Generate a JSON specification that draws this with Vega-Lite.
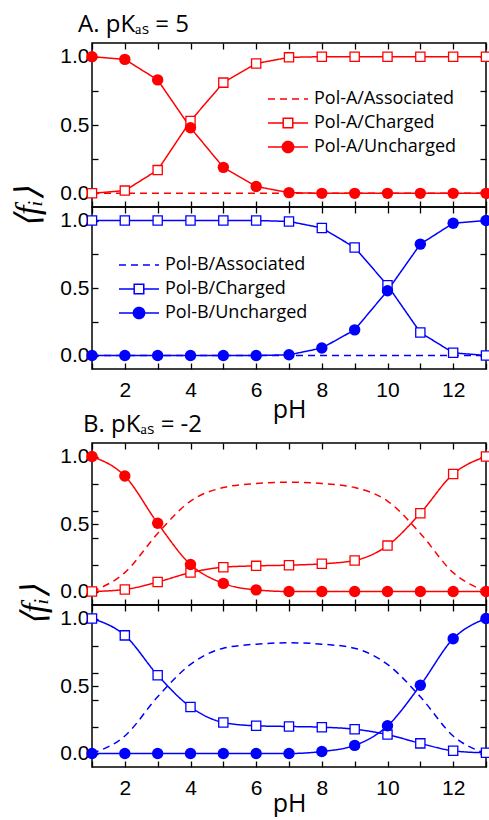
{
  "$schema": "https://vega.github.io/schema/vega-lite/v6.json",
  "padding": {"left": 10, "right": 4, "top": 12, "bottom": 0},
  "spacing": -11,
  "resolve": {"scale": {"strokeDash": "independent"}, "legend": {"strokeDash": "independent"}},
  "config": {
    "font": "Liberation Sans",
    "view": {"stroke": "black", "strokeWidth": 1.5},
    "axis": {
      "domain": false, "grid": false, "tickColor": "black", "tickWidth": 1.3, "tickSize": -6,
      "labelFont": "Liberation Sans", "labelFontSize": 21, "labelColor": "black", "labelPadding": 9,
      "titleFont": "Open Sans", "titleFontSize": 25, "titleFontWeight": "normal", "titleColor": "black"
    },
    "title": {"font": "Open Sans", "fontSize": 24, "fontWeight": "normal", "color": "black", "anchor": "start", "frame": "group"}
  },
  "datasets": {
    "a_red": [
      {"pH":1,"series":"Pol-A/Associated","f":0},{"pH":2,"series":"Pol-A/Associated","f":0},{"pH":3,"series":"Pol-A/Associated","f":0},{"pH":4,"series":"Pol-A/Associated","f":0},{"pH":5,"series":"Pol-A/Associated","f":0},{"pH":6,"series":"Pol-A/Associated","f":0},{"pH":7,"series":"Pol-A/Associated","f":0},{"pH":8,"series":"Pol-A/Associated","f":0},{"pH":9,"series":"Pol-A/Associated","f":0},{"pH":10,"series":"Pol-A/Associated","f":0},{"pH":11,"series":"Pol-A/Associated","f":0},{"pH":12,"series":"Pol-A/Associated","f":0},{"pH":13,"series":"Pol-A/Associated","f":0},
      {"pH":1,"series":"Pol-A/Charged","f":0},{"pH":2,"series":"Pol-A/Charged","f":0.02},{"pH":3,"series":"Pol-A/Charged","f":0.17},{"pH":4,"series":"Pol-A/Charged","f":0.53},{"pH":5,"series":"Pol-A/Charged","f":0.81},{"pH":6,"series":"Pol-A/Charged","f":0.95},{"pH":7,"series":"Pol-A/Charged","f":0.995},{"pH":8,"series":"Pol-A/Charged","f":1},{"pH":9,"series":"Pol-A/Charged","f":1},{"pH":10,"series":"Pol-A/Charged","f":1},{"pH":11,"series":"Pol-A/Charged","f":1},{"pH":12,"series":"Pol-A/Charged","f":1},{"pH":13,"series":"Pol-A/Charged","f":1},
      {"pH":1,"series":"Pol-A/Uncharged","f":1},{"pH":2,"series":"Pol-A/Uncharged","f":0.98},{"pH":3,"series":"Pol-A/Uncharged","f":0.83},{"pH":4,"series":"Pol-A/Uncharged","f":0.48},{"pH":5,"series":"Pol-A/Uncharged","f":0.19},{"pH":6,"series":"Pol-A/Uncharged","f":0.05},{"pH":7,"series":"Pol-A/Uncharged","f":0.005},{"pH":8,"series":"Pol-A/Uncharged","f":0},{"pH":9,"series":"Pol-A/Uncharged","f":0},{"pH":10,"series":"Pol-A/Uncharged","f":0},{"pH":11,"series":"Pol-A/Uncharged","f":0},{"pH":12,"series":"Pol-A/Uncharged","f":0},{"pH":13,"series":"Pol-A/Uncharged","f":0}
    ],
    "a_blue": [
      {"pH":1,"series":"Pol-B/Associated","f":0},{"pH":2,"series":"Pol-B/Associated","f":0},{"pH":3,"series":"Pol-B/Associated","f":0},{"pH":4,"series":"Pol-B/Associated","f":0},{"pH":5,"series":"Pol-B/Associated","f":0},{"pH":6,"series":"Pol-B/Associated","f":0},{"pH":7,"series":"Pol-B/Associated","f":0},{"pH":8,"series":"Pol-B/Associated","f":0},{"pH":9,"series":"Pol-B/Associated","f":0},{"pH":10,"series":"Pol-B/Associated","f":0},{"pH":11,"series":"Pol-B/Associated","f":0},{"pH":12,"series":"Pol-B/Associated","f":0},{"pH":13,"series":"Pol-B/Associated","f":0},
      {"pH":1,"series":"Pol-B/Charged","f":1},{"pH":2,"series":"Pol-B/Charged","f":1},{"pH":3,"series":"Pol-B/Charged","f":1},{"pH":4,"series":"Pol-B/Charged","f":1},{"pH":5,"series":"Pol-B/Charged","f":1},{"pH":6,"series":"Pol-B/Charged","f":1},{"pH":7,"series":"Pol-B/Charged","f":0.993},{"pH":8,"series":"Pol-B/Charged","f":0.945},{"pH":9,"series":"Pol-B/Charged","f":0.8},{"pH":10,"series":"Pol-B/Charged","f":0.52},{"pH":11,"series":"Pol-B/Charged","f":0.17},{"pH":12,"series":"Pol-B/Charged","f":0.02},{"pH":13,"series":"Pol-B/Charged","f":0},
      {"pH":1,"series":"Pol-B/Uncharged","f":0},{"pH":2,"series":"Pol-B/Uncharged","f":0},{"pH":3,"series":"Pol-B/Uncharged","f":0},{"pH":4,"series":"Pol-B/Uncharged","f":0},{"pH":5,"series":"Pol-B/Uncharged","f":0},{"pH":6,"series":"Pol-B/Uncharged","f":0},{"pH":7,"series":"Pol-B/Uncharged","f":0.005},{"pH":8,"series":"Pol-B/Uncharged","f":0.055},{"pH":9,"series":"Pol-B/Uncharged","f":0.19},{"pH":10,"series":"Pol-B/Uncharged","f":0.48},{"pH":11,"series":"Pol-B/Uncharged","f":0.825},{"pH":12,"series":"Pol-B/Uncharged","f":0.98},{"pH":13,"series":"Pol-B/Uncharged","f":1}
    ],
    "b_red": [
      {"pH":1,"series":"Pol-A/Associated","f":0},{"pH":2,"series":"Pol-A/Associated","f":0.14},{"pH":3,"series":"Pol-A/Associated","f":0.43},{"pH":4,"series":"Pol-A/Associated","f":0.67},{"pH":5,"series":"Pol-A/Associated","f":0.77},{"pH":6,"series":"Pol-A/Associated","f":0.8},{"pH":7,"series":"Pol-A/Associated","f":0.81},{"pH":8,"series":"Pol-A/Associated","f":0.8},{"pH":9,"series":"Pol-A/Associated","f":0.77},{"pH":10,"series":"Pol-A/Associated","f":0.67},{"pH":11,"series":"Pol-A/Associated","f":0.43},{"pH":12,"series":"Pol-A/Associated","f":0.14},{"pH":13,"series":"Pol-A/Associated","f":0},
      {"pH":1,"series":"Pol-A/Charged","f":0},{"pH":2,"series":"Pol-A/Charged","f":0.015},{"pH":3,"series":"Pol-A/Charged","f":0.07},{"pH":4,"series":"Pol-A/Charged","f":0.14},{"pH":5,"series":"Pol-A/Charged","f":0.18},{"pH":6,"series":"Pol-A/Charged","f":0.19},{"pH":7,"series":"Pol-A/Charged","f":0.195},{"pH":8,"series":"Pol-A/Charged","f":0.205},{"pH":9,"series":"Pol-A/Charged","f":0.23},{"pH":10,"series":"Pol-A/Charged","f":0.34},{"pH":11,"series":"Pol-A/Charged","f":0.58},{"pH":12,"series":"Pol-A/Charged","f":0.87},{"pH":13,"series":"Pol-A/Charged","f":1},
      {"pH":1,"series":"Pol-A/Uncharged","f":1},{"pH":2,"series":"Pol-A/Uncharged","f":0.855},{"pH":3,"series":"Pol-A/Uncharged","f":0.505},{"pH":4,"series":"Pol-A/Uncharged","f":0.2},{"pH":5,"series":"Pol-A/Uncharged","f":0.06},{"pH":6,"series":"Pol-A/Uncharged","f":0.012},{"pH":7,"series":"Pol-A/Uncharged","f":0},{"pH":8,"series":"Pol-A/Uncharged","f":0},{"pH":9,"series":"Pol-A/Uncharged","f":0},{"pH":10,"series":"Pol-A/Uncharged","f":0},{"pH":11,"series":"Pol-A/Uncharged","f":0},{"pH":12,"series":"Pol-A/Uncharged","f":0},{"pH":13,"series":"Pol-A/Uncharged","f":0}
    ],
    "b_blue": [
      {"pH":1,"series":"Pol-B/Associated","f":0},{"pH":2,"series":"Pol-B/Associated","f":0.13},{"pH":3,"series":"Pol-B/Associated","f":0.42},{"pH":4,"series":"Pol-B/Associated","f":0.66},{"pH":5,"series":"Pol-B/Associated","f":0.78},{"pH":6,"series":"Pol-B/Associated","f":0.81},{"pH":7,"series":"Pol-B/Associated","f":0.82},{"pH":8,"series":"Pol-B/Associated","f":0.81},{"pH":9,"series":"Pol-B/Associated","f":0.78},{"pH":10,"series":"Pol-B/Associated","f":0.66},{"pH":11,"series":"Pol-B/Associated","f":0.42},{"pH":12,"series":"Pol-B/Associated","f":0.13},{"pH":13,"series":"Pol-B/Associated","f":0},
      {"pH":1,"series":"Pol-B/Charged","f":1},{"pH":2,"series":"Pol-B/Charged","f":0.875},{"pH":3,"series":"Pol-B/Charged","f":0.58},{"pH":4,"series":"Pol-B/Charged","f":0.345},{"pH":5,"series":"Pol-B/Charged","f":0.23},{"pH":6,"series":"Pol-B/Charged","f":0.205},{"pH":7,"series":"Pol-B/Charged","f":0.2},{"pH":8,"series":"Pol-B/Charged","f":0.195},{"pH":9,"series":"Pol-B/Charged","f":0.18},{"pH":10,"series":"Pol-B/Charged","f":0.14},{"pH":11,"series":"Pol-B/Charged","f":0.075},{"pH":12,"series":"Pol-B/Charged","f":0.02},{"pH":13,"series":"Pol-B/Charged","f":0.005},
      {"pH":1,"series":"Pol-B/Uncharged","f":0},{"pH":2,"series":"Pol-B/Uncharged","f":0},{"pH":3,"series":"Pol-B/Uncharged","f":0},{"pH":4,"series":"Pol-B/Uncharged","f":0},{"pH":5,"series":"Pol-B/Uncharged","f":0},{"pH":6,"series":"Pol-B/Uncharged","f":0},{"pH":7,"series":"Pol-B/Uncharged","f":0},{"pH":8,"series":"Pol-B/Uncharged","f":0.015},{"pH":9,"series":"Pol-B/Uncharged","f":0.06},{"pH":10,"series":"Pol-B/Uncharged","f":0.205},{"pH":11,"series":"Pol-B/Uncharged","f":0.505},{"pH":12,"series":"Pol-B/Uncharged","f":0.85},{"pH":13,"series":"Pol-B/Uncharged","f":1}
    ]
  },
  "vconcat": [
    {
      "spacing": 0,
      "bounds": "flush",
      "resolve": {"scale": {"strokeDash": "independent"}, "legend": {"strokeDash": "independent"}},
      "vconcat": [
        {
          "width": 394, "height": 164,
          "title": {"text": "A. pKₐₛ = 5", "dx": -14, "offset": 5},
          "data": {"name": "a_red"},
          "layer": [
            {
              "mark": {"type": "line", "strokeWidth": 1.5, "color": "#ff0000", "interpolate": "linear"},
              "encoding": {
                "x": {"field": "pH", "type": "quantitative", "scale": {"domain": [1, 13], "nice": false},
                      "axis": {"orient": "bottom", "values": [1,2,3,4,5,6,7,8,9,10,11,12,13], "labels": false, "title": null}},
                "y": {"field": "f", "type": "quantitative", "scale": {"domain": [-0.1, 1.1], "nice": false, "zero": false},
                      "axis": {"orient": "left", "values": [0, 0.25, 0.5, 0.75, 1], "labelExpr": "datum.value == 0 || datum.value == 0.5 || datum.value == 1 ? format(datum.value, '.1f') : ''",
                               "title": "⟨fᵢ⟩", "titleFont": "Liberation Serif", "titleFontStyle": "italic", "titleFontSize": 34, "titleAngle": 270, "titleX": -64, "titleY": 164, "titleAlign": "center", "titleBaseline": "middle"}},
                "strokeDash": {"field": "series", "type": "nominal",
                  "scale": {"domain": ["Pol-A/Associated", "Pol-A/Charged", "Pol-A/Uncharged"], "range": [[7, 5], [1, 0], [1, 0]]},
                  "legend": {"orient": "none", "legendX": 173, "legendY": 47, "title": null, "padding": 0,
                    "symbolSize": 144, "symbolStrokeWidth": 1.5, "symbolStrokeColor": "#ff0000",
                    "labelFont": "Open Sans", "labelFontSize": 18, "labelColor": "black", "labelOffset": 31, "rowPadding": 6,
                    "encode": {"symbols": {"update": {
                      "shape": {"signal": "indexof(datum.value, 'Uncharged') >= 0 ? 'M-1,0H1.4M3.27,0H5.67M3.27,0A0.93,0.93,0,1,1,1.4,0A0.93,0.93,0,1,1,3.27,0Z' : (indexof(datum.value, '/Charged') >= 0 ? 'M-1,0H1.53M3.13,0H5.67M1.53,-0.8H3.13V0.8H1.53Z' : 'M-1,0H5.67')"},
                      "fill": {"signal": "indexof(datum.value, 'Uncharged') >= 0 ? '#ff0000' : '#ffffff'"},
                      "stroke": {"value": "#ff0000"}}}}}
                }
              }
            },
            {
              "transform": [{"filter": {"field": "series", "oneOf": ["Pol-A/Charged"]}}],
              "mark": {"type": "point", "shape": "square", "size": 85, "filled": true, "fill": "#ffffff", "stroke": "#ff0000", "strokeWidth": 1.3, "opacity": 1},
              "encoding": {
                "x": {"field": "pH", "type": "quantitative", "axis": {"orient": "top", "values": [1,2,3,4,5,6,7,8,9,10,11,12,13], "labels": false, "title": null}},
                "y": {"field": "f", "type": "quantitative", "axis": {"orient": "right", "values": [0, 0.25, 0.5, 0.75, 1], "labels": false, "title": null}}
              }
            },
            {
              "transform": [{"filter": {"field": "series", "oneOf": ["Pol-A/Uncharged"]}}],
              "mark": {"type": "point", "shape": "circle", "size": 130, "filled": true, "color": "#ff0000", "opacity": 1},
              "encoding": {
                "x": {"field": "pH", "type": "quantitative", "axis": null},
                "y": {"field": "f", "type": "quantitative", "axis": null}
              }
            }
          ],
          "resolve": {"axis": {"x": "independent", "y": "independent"}}
        },
        {
          "width": 394, "height": 162,
          "data": {"name": "a_blue"},
          "layer": [
            {
              "mark": {"type": "line", "strokeWidth": 1.5, "color": "#0000ff", "interpolate": "linear"},
              "encoding": {
                "x": {"field": "pH", "type": "quantitative", "scale": {"domain": [1, 13], "nice": false},
                      "axis": {"orient": "bottom", "values": [1,2,3,4,5,6,7,8,9,10,11,12,13], "labelExpr": "datum.value % 2 == 0 ? datum.label : ''", "labelPadding": 16, "title": "pH", "titlePadding": -3}},
                "y": {"field": "f", "type": "quantitative", "scale": {"domain": [-0.1, 1.1], "nice": false, "zero": false},
                      "axis": {"orient": "left", "values": [0, 0.25, 0.5, 0.75, 1], "labelExpr": "datum.value == 0 || datum.value == 0.5 || datum.value == 1 ? format(datum.value, '.1f') : ''", "title": null}},
                "strokeDash": {"field": "series", "type": "nominal",
                  "scale": {"domain": ["Pol-B/Associated", "Pol-B/Charged", "Pol-B/Uncharged"], "range": [[7, 5], [1, 0], [1, 0]]},
                  "legend": {"orient": "none", "legendX": 24, "legendY": 49, "title": null, "padding": 0,
                    "symbolSize": 144, "symbolStrokeWidth": 1.5, "symbolStrokeColor": "#0000ff",
                    "labelFont": "Open Sans", "labelFontSize": 18, "labelColor": "black", "labelOffset": 31, "rowPadding": 6,
                    "encode": {"symbols": {"update": {
                      "shape": {"signal": "indexof(datum.value, 'Uncharged') >= 0 ? 'M-1,0H1.4M3.27,0H5.67M3.27,0A0.93,0.93,0,1,1,1.4,0A0.93,0.93,0,1,1,3.27,0Z' : (indexof(datum.value, '/Charged') >= 0 ? 'M-1,0H1.53M3.13,0H5.67M1.53,-0.8H3.13V0.8H1.53Z' : 'M-1,0H5.67')"},
                      "fill": {"signal": "indexof(datum.value, 'Uncharged') >= 0 ? '#0000ff' : '#ffffff'"},
                      "stroke": {"value": "#0000ff"}}}}}
                }
              }
            },
            {
              "transform": [{"filter": {"field": "series", "oneOf": ["Pol-B/Charged"]}}],
              "mark": {"type": "point", "shape": "square", "size": 85, "filled": true, "fill": "#ffffff", "stroke": "#0000ff", "strokeWidth": 1.3, "opacity": 1},
              "encoding": {
                "x": {"field": "pH", "type": "quantitative", "axis": {"orient": "top", "values": [1,2,3,4,5,6,7,8,9,10,11,12,13], "labels": false, "title": null}},
                "y": {"field": "f", "type": "quantitative", "axis": {"orient": "right", "values": [0, 0.25, 0.5, 0.75, 1], "labels": false, "title": null}}
              }
            },
            {
              "transform": [{"filter": {"field": "series", "oneOf": ["Pol-B/Uncharged"]}}],
              "mark": {"type": "point", "shape": "circle", "size": 130, "filled": true, "color": "#0000ff", "opacity": 1},
              "encoding": {
                "x": {"field": "pH", "type": "quantitative", "axis": null},
                "y": {"field": "f", "type": "quantitative", "axis": null}
              }
            }
          ],
          "resolve": {"axis": {"x": "independent", "y": "independent"}}
        }
      ]
    },
    {
      "spacing": 0,
      "bounds": "flush",
      "resolve": {"scale": {"strokeDash": "independent"}, "legend": {"strokeDash": "independent"}},
      "vconcat": [
        {
          "width": 394, "height": 162,
          "title": {"text": "B. pKₐₛ = -2", "dx": -9, "offset": 5},
          "data": {"name": "b_red"},
          "layer": [
            {
              "mark": {"type": "line", "strokeWidth": 1.5, "color": "#ff0000", "interpolate": "monotone"},
              "encoding": {
                "x": {"field": "pH", "type": "quantitative", "scale": {"domain": [1, 13], "nice": false},
                      "axis": {"orient": "bottom", "values": [1,2,3,4,5,6,7,8,9,10,11,12,13], "labels": false, "title": null}},
                "y": {"field": "f", "type": "quantitative", "scale": {"domain": [-0.1, 1.1], "nice": false, "zero": false},
                      "axis": {"orient": "left", "values": [0, 0.2, 0.4, 0.5, 0.6, 0.8, 1], "labelExpr": "datum.value == 0 || datum.value == 0.5 || datum.value == 1 ? format(datum.value, '.1f') : ''",
                               "title": "⟨fᵢ⟩", "titleFont": "Liberation Serif", "titleFontStyle": "italic", "titleFontSize": 34, "titleAngle": 270, "titleX": -58, "titleY": 162, "titleAlign": "center", "titleBaseline": "middle"}},
                "strokeDash": {"field": "series", "type": "nominal",
                  "scale": {"domain": ["Pol-A/Associated", "Pol-A/Charged", "Pol-A/Uncharged"], "range": [[7, 5], [1, 0], [1, 0]]},
                  "legend": null}
              }
            },
            {
              "transform": [{"filter": {"field": "series", "oneOf": ["Pol-A/Charged"]}}],
              "mark": {"type": "point", "shape": "square", "size": 85, "filled": true, "fill": "#ffffff", "stroke": "#ff0000", "strokeWidth": 1.3, "opacity": 1},
              "encoding": {
                "x": {"field": "pH", "type": "quantitative", "axis": {"orient": "top", "values": [1,2,3,4,5,6,7,8,9,10,11,12,13], "labels": false, "title": null}},
                "y": {"field": "f", "type": "quantitative", "axis": {"orient": "right", "values": [0, 0.2, 0.4, 0.5, 0.6, 0.8, 1], "labels": false, "title": null}}
              }
            },
            {
              "transform": [{"filter": {"field": "series", "oneOf": ["Pol-A/Uncharged"]}}],
              "mark": {"type": "point", "shape": "circle", "size": 130, "filled": true, "color": "#ff0000", "opacity": 1},
              "encoding": {
                "x": {"field": "pH", "type": "quantitative", "axis": null},
                "y": {"field": "f", "type": "quantitative", "axis": null}
              }
            }
          ],
          "resolve": {"axis": {"x": "independent", "y": "independent"}}
        },
        {
          "width": 394, "height": 162,
          "data": {"name": "b_blue"},
          "layer": [
            {
              "mark": {"type": "line", "strokeWidth": 1.5, "color": "#0000ff", "interpolate": "monotone"},
              "encoding": {
                "x": {"field": "pH", "type": "quantitative", "scale": {"domain": [1, 13], "nice": false},
                      "axis": {"orient": "bottom", "values": [1,2,3,4,5,6,7,8,9,10,11,12,13], "labelExpr": "datum.value % 2 == 0 ? datum.label : ''", "labelPadding": 16, "title": "pH", "titlePadding": -7}},
                "y": {"field": "f", "type": "quantitative", "scale": {"domain": [-0.1, 1.1], "nice": false, "zero": false},
                      "axis": {"orient": "left", "values": [0, 0.2, 0.4, 0.5, 0.6, 0.8, 1], "labelExpr": "datum.value == 0 || datum.value == 0.5 || datum.value == 1 ? format(datum.value, '.1f') : ''", "title": null}},
                "strokeDash": {"field": "series", "type": "nominal",
                  "scale": {"domain": ["Pol-B/Associated", "Pol-B/Charged", "Pol-B/Uncharged"], "range": [[7, 5], [1, 0], [1, 0]]},
                  "legend": null}
              }
            },
            {
              "transform": [{"filter": {"field": "series", "oneOf": ["Pol-B/Charged"]}}],
              "mark": {"type": "point", "shape": "square", "size": 85, "filled": true, "fill": "#ffffff", "stroke": "#0000ff", "strokeWidth": 1.3, "opacity": 1},
              "encoding": {
                "x": {"field": "pH", "type": "quantitative", "axis": {"orient": "top", "values": [1,2,3,4,5,6,7,8,9,10,11,12,13], "labels": false, "title": null}},
                "y": {"field": "f", "type": "quantitative", "axis": {"orient": "right", "values": [0, 0.2, 0.4, 0.5, 0.6, 0.8, 1], "labels": false, "title": null}}
              }
            },
            {
              "transform": [{"filter": {"field": "series", "oneOf": ["Pol-B/Uncharged"]}}],
              "mark": {"type": "point", "shape": "circle", "size": 130, "filled": true, "color": "#0000ff", "opacity": 1},
              "encoding": {
                "x": {"field": "pH", "type": "quantitative", "axis": null},
                "y": {"field": "f", "type": "quantitative", "axis": null}
              }
            }
          ],
          "resolve": {"axis": {"x": "independent", "y": "independent"}}
        }
      ]
    }
  ]
}
